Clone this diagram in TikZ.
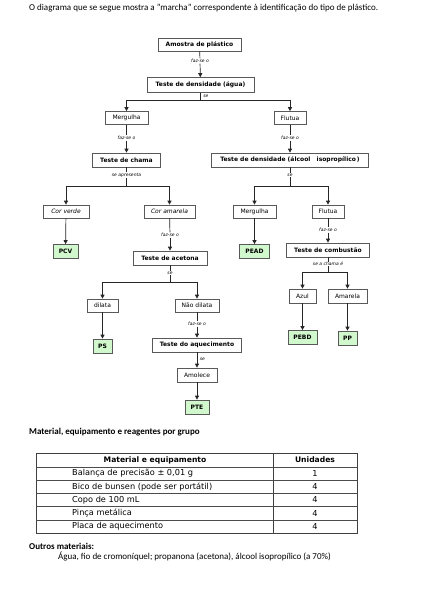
\documentclass[tikz,border=0pt]{standalone}
\usepackage{fontspec}
\setmainfont{Carlito}
\newfontfamily\djfont{DejaVu Sans}
\usetikzlibrary{arrows.meta,shadows}
\definecolor{boxgreen}{rgb}{0.82,0.97,0.80}
\tikzset{
  bx/.style={draw=black!65, fill=white, line width=0.7pt, inner sep=0pt,
    font=\djfont\fontsize{6}{7}\selectfont,
    drop shadow={shadow xshift=0.8pt, shadow yshift=-0.8pt, opacity=0.45}},
  bb/.style={bx, font=\djfont\bfseries\fontsize{6}{7}\selectfont},
  gb/.style={bb, fill=boxgreen},
  lab/.style={font=\djfont\itshape\fontsize{4.5}{5}\selectfont, inner sep=0.6pt, fill=white},
  labr/.style={font=\djfont\itshape\fontsize{4.5}{5}\selectfont, inner sep=0.6pt, anchor=west},
  ln/.style={line width=0.7pt, draw=black!85},
  arr/.style={ln, -{Triangle[length=4pt,width=4pt]}},
  tb/.style={font=\djfont\fontsize{8.2}{9}\selectfont, inner sep=0pt},
  tbh/.style={font=\djfont\bfseries\fontsize{7.6}{8}\selectfont, inner sep=0pt},
}
\begin{document}
\begin{tikzpicture}[x=1pt,y=-1pt]
\useasboundingbox (0,0) rectangle (423,600);
\fill[white] (0,0) rectangle (423,600);
% title
\node[anchor=west, inner sep=0pt, font=\fontsize{9}{10}\selectfont] (title) at (29,8)
  {O diagrama que se segue mostra a "marcha" correspondente à identificação do tipo de plástico.};
% boxes
\node[bb, minimum width=83, minimum height=13] (a) at (199.5,44.5) {Amostra de plástico};
\node[lab] (fo1) at (200,61) {faz-se o};
\node[bb, minimum width=107, minimum height=15] (td) at (200.5,85) {Teste de densidade (água)};
\node[labr] (se1) at (202.5,96) {se};
\coordinate (s1) at (200.5,100);
\node[bx, minimum width=43, minimum height=13] (m1) at (126.5,118) {Mergulha};
\node[bx, minimum width=32, minimum height=13] (f1) at (290,118) {Flutua};
\node[lab] (fo2) at (126.5,138) {faz-se o};
\node[lab] (fo3) at (290,138) {faz-se o};
\node[bb, minimum width=68, minimum height=14] (tc) at (126.5,160) {Teste de chama};
\node[bb, minimum width=157, minimum height=14] (tdi) at (290,160) {Teste de densidade (álcool\ \ \ isopropílico\,)};
\coordinate (s2) at (126.5,186);
\coordinate (s3) at (290,186);
\node[bx, minimum width=46, minimum height=13] (cv) at (66,211.5) {\itshape Cor verde};
\node[bx, minimum width=51, minimum height=13] (ca) at (169.5,211.5) {\itshape Cor amarela};
\node[bx, minimum width=43, minimum height=13] (m2) at (254.5,211.5) {Mergulha};
\node[bx, minimum width=32, minimum height=13] (f2) at (328,211.5) {Flutua};
\node[gb, minimum width=25, minimum height=14] (pcv) at (65.5,251.5) {PCV};
\node[lab] (fo4) at (170,235) {faz-se o};
\node[bb, minimum width=74, minimum height=14] (ta) at (170,258) {Teste de acetona};
\node[gb, minimum width=30, minimum height=14] (pead) at (254.5,251.5) {PEAD};
\node[lab] (fo5) at (328,230) {faz-se o};
\node[bb, minimum width=83, minimum height=14] (tcb) at (328,250) {Teste de combustão};
\coordinate (s4) at (170,282);
\coordinate (s5) at (328,272);
\node[bx, minimum width=31, minimum height=13] (dl) at (102.5,305.5) {dilata};
\node[bx, minimum width=44, minimum height=13] (nd) at (197,305.5) {Não dilata};
\node[gb, minimum width=19, minimum height=14] (ps) at (102.5,346) {PS};
\node[lab] (fo6) at (197,324) {faz-se o};
\node[bb, minimum width=89, minimum height=14] (taq) at (197,345) {Teste do aquecimento};
\node[labr] (se4) at (199,359) {se};
\node[bx, minimum width=40, minimum height=14] (am) at (197,375) {Amolece};
\node[gb, minimum width=24, minimum height=14] (pte) at (197,407) {PTE};
\node[bx, minimum width=27, minimum height=14] (az) at (302.5,296) {Azul};
\node[bx, minimum width=39, minimum height=14] (ama) at (347.5,296) {Amarela};
\node[gb, minimum width=29, minimum height=14] (pebd) at (302.5,337.5) {PEBD};
\node[gb, minimum width=19, minimum height=14] (pp) at (347.5,338) {PP};
% connectors
\draw[ln] (a) -- (fo1);
\draw[arr] (fo1) -- (td);
\draw[ln] (td) -- (s1);
\draw[arr] (s1) -| (m1);
\draw[arr] (s1) -| (f1);
\draw[ln] (m1) -- (fo2);
\draw[arr] (fo2) -- (tc);
\draw[ln] (f1) -- (fo3);
\draw[arr] (fo3) -- (tdi);
\draw[ln] (tc) -- (s2);
\draw[arr] (s2) -| (cv);
\draw[arr] (s2) -| (ca);
\draw[ln] (tdi) -- (s3);
\draw[arr] (s3) -| (m2);
\draw[arr] (s3) -| (f2);
\node[lab] (sa) at (126.5,175) {se apresenta};
\node[lab] (se2) at (290,175) {se};
\draw[arr] (cv) -- (pcv);
\draw[ln] (ca) -- (fo4);
\draw[arr] (fo4) -- (ta);
\draw[arr] (m2) -- (pead);
\draw[ln] (f2) -- (fo5);
\draw[arr] (fo5) -- (tcb);
\draw[ln] (ta) -- (s4);
\draw[arr] (s4) -| (dl);
\draw[arr] (s4) -| (nd);
\node[lab] (se3) at (170,273) {se};
\draw[ln] (tcb) -- (s5);
\draw[arr] (s5) -| (az);
\draw[arr] (s5) -| (ama);
\node[lab] (sce) at (328,264) {se a chama é};
\draw[arr] (dl) -- (ps);
\draw[ln] (nd) -- (fo6);
\draw[arr] (fo6) -- (taq);
\draw[arr] (taq) -- (am);
\draw[arr] (am) -- (pte);
\draw[arr] (az) -- (pebd);
\draw[arr] (ama) -- (pp);
% materials
\node[anchor=west, inner sep=0pt, font=\bfseries\fontsize{9}{10}\selectfont] (mat) at (29,432)
  {Material, equipamento e reagentes por grupo};
\draw[line width=0.9pt, draw=black!75] (36,453) rectangle (357,533);
\draw[line width=0.7pt, draw=black!75] (273,453) -- (273,533);
\foreach \yy in {467,480,493.3,506.7,520} \draw[line width=0.7pt, draw=black!70] (36,\yy) -- (357,\yy);
\node[tbh] (h1) at (155,460) {Material e equipamento};
\node[tbh] (h2) at (315,460) {Unidades};
\node[tb, anchor=west] (r1) at (72,473.5) {Balança de precisão ± 0,01 g};
\node[tb, anchor=west] (r2) at (72,486.7) {Bico de bunsen (pode ser portátil)};
\node[tb, anchor=west] (r3) at (72,500) {Copo de 100 mL};
\node[tb, anchor=west] (r4) at (72,513.3) {Pinça metálica};
\node[tb, anchor=west] (r5) at (72,526.7) {Placa de aquecimento};
\node[tb] (u1) at (315,473.5) {1};
\node[tb] (u2) at (315,486.7) {4};
\node[tb] (u3) at (315,500) {4};
\node[tb] (u4) at (315,513.3) {4};
\node[tb] (u5) at (315,526.7) {4};
\node[anchor=west, inner sep=0pt, font=\bfseries\fontsize{9}{10}\selectfont] (out) at (29,546)
  {Outros materiais:};
\node[anchor=west, inner sep=0pt, font=\fontsize{9}{10}\selectfont] (outl) at (58,557)
  {Água, fio de cromoníquel; propanona (acetona), álcool isopropílico (a 70\%)};
\end{tikzpicture}
\end{document}
